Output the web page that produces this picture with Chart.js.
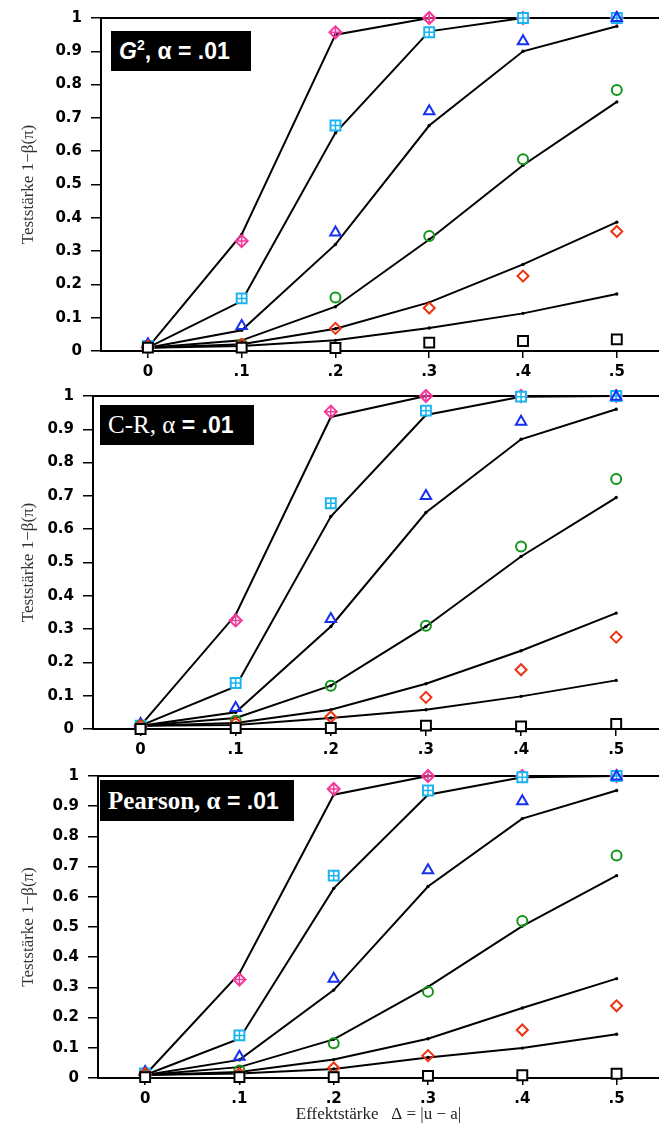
<!DOCTYPE html>
<html>
<head>
<meta charset="utf-8">
<script src="https://cdn.jsdelivr.net/npm/chart.js@4.4.1/dist/chart.umd.min.js"></script>
<style>
  body { margin: 0; background: #fff; }
  #wrap { position: relative; width: 659px; height: 1125px; }
  canvas { position: absolute; left: 0; }
  .tag {
    position: absolute; background: #000; color: #fff;
    display: flex; align-items: center; box-sizing: border-box;
    padding-left: 8px; white-space: nowrap;
    font: bold 23px "Liberation Sans", Arial, sans-serif;
  }
  .tag sup { font-size: 14px; vertical-align: 9px; line-height: 0; }
  .serif { font-family: "Liberation Serif", "DejaVu Serif", serif; }
</style>
</head>
<body>
<div id="wrap">
  <canvas id="g2" width="659" height="378" style="top:0px"></canvas>
  <canvas id="cr" width="659" height="380" style="top:378px"></canvas>
  <canvas id="pe" width="659" height="367" style="top:758px"></canvas>
  <div class="tag" style="left:111px;top:31px;width:140px;height:40px"><span><i>G</i><sup>2</sup>, α = .01</span></div>
  <div class="tag" style="left:100px;top:405px;width:154px;height:40px"><span><span class="serif" style="font-weight:normal;font-size:25px">C-R, α</span> = .01</span></div>
  <div class="tag" style="left:100px;top:780px;width:194px;height:41px"><span><span class="serif" style="font-size:25px">Pearson, α</span> = .01</span></div>
</div>
<script>
// Effektstärke (x) und Achsenbeschriftungen
const effect = [0, 0.1, 0.2, 0.3, 0.4, 0.5];
const xTickLabels = ['0', '.1', '.2', '.3', '.4', '.5'];
const yTicks = [0, 0.1, 0.2, 0.3, 0.4, 0.5, 0.6, 0.7, 0.8, 0.9, 1];
const yTickLabels = ['0', '0.1', '0.2', '0.3', '0.4', '0.5', '0.6', '0.7', '0.8', '0.9', '1'];

// Kurven (schwarze Linien): pink, cyan, blau, grün, rot, schwarz
const g2Lines = [
  [0.01, 0.35, 0.95, 1.0, 1.0, 1.0],
  [0.01, 0.15, 0.655, 0.96, 1.0, 1.0],
  [0.01, 0.062, 0.32, 0.677, 0.90, 0.975],
  [0.01, 0.032, 0.133, 0.335, 0.558, 0.748],
  [0.01, 0.02, 0.067, 0.146, 0.26, 0.387],
  [0.01, 0.015, 0.032, 0.069, 0.113, 0.171]
];
// Simulierte Werte (Marker): pink, cyan, blau, grün, rot, Quadrat
const g2Marks = [
  [0.01, 0.33, 0.957, 1.0, 1.0, 1.0],
  [0.015, 0.158, 0.677, 0.957, 1.0, 1.0],
  [0.02, 0.075, 0.356, 0.72, 0.93, 1.0],
  [0.01, 0.02, 0.161, 0.345, 0.576, 0.784],
  [0.015, 0.02, 0.068, 0.129, 0.225, 0.359],
  [0.01, 0.01, 0.009, 0.025, 0.03, 0.035]
];

const crLines = [
  [0.01, 0.343, 0.937, 1.0, 1.0, 1.0],
  [0.01, 0.128, 0.638, 0.943, 0.998, 1.0],
  [0.01, 0.05, 0.308, 0.65, 0.87, 0.96],
  [0.01, 0.033, 0.13, 0.308, 0.518, 0.695],
  [0.01, 0.018, 0.058, 0.136, 0.235, 0.348],
  [0.01, 0.012, 0.033, 0.058, 0.098, 0.146]
];
const crMarks = [
  [0.01, 0.326, 0.953, 1.0, 1.0, 1.0],
  [0.01, 0.138, 0.678, 0.956, 0.998, 1.0],
  [0.015, 0.063, 0.33, 0.70, 0.923, 0.998],
  [0.01, 0.025, 0.13, 0.31, 0.548, 0.751],
  [0.01, 0.018, 0.036, 0.095, 0.178, 0.276],
  [0.0, 0.003, 0.003, 0.01, 0.008, 0.015]
];

const peLines = [
  [0.01, 0.346, 0.938, 1.0, 1.0, 1.0],
  [0.01, 0.13, 0.628, 0.938, 0.996, 1.0],
  [0.01, 0.06, 0.291, 0.634, 0.859, 0.952],
  [0.01, 0.036, 0.128, 0.302, 0.503, 0.67],
  [0.01, 0.02, 0.061, 0.13, 0.232, 0.329],
  [0.01, 0.015, 0.03, 0.068, 0.099, 0.145]
];
const peMarks = [
  [0.01, 0.326, 0.957, 1.0, 1.0, 1.0],
  [0.015, 0.141, 0.67, 0.952, 0.996, 1.0],
  [0.02, 0.07, 0.329, 0.688, 0.916, 0.998],
  [0.01, 0.025, 0.115, 0.286, 0.52, 0.737],
  [0.015, 0.015, 0.033, 0.074, 0.159, 0.239],
  [0.003, 0.003, 0.003, 0.007, 0.009, 0.014]
];

// Markerformen (order: kleinere Zahl liegt oben)
const markStyles = [
  { style: 'rectRot', color: '#f2399b', r: 6, cross: 6, order: 7 },
  { style: 'rect', color: '#1cb4ee', r: 7, cross: 5, order: 6, fill: '#fff' },
  { style: 'triangle', color: '#1630ee', r: 6, order: 5 },
  { style: 'circle', color: '#13951b', r: 5, order: 4 },
  { style: 'rectRot', color: '#ee3312', r: 5.5, order: 3 },
  { style: 'rect', color: '#000', r: 7, fill: '#fff', order: 1 }
];

const tickFont = '"DejaVu Sans", "Liberation Sans", sans-serif';
const serif = '"Liberation Serif", "DejaVu Serif", serif';

function pts(arr) {
  return effect.map((x, i) => ({ x: x, y: arr[i] }));
}

function makePanel(id, lines, marks, g) {
  const datasets = [];
  lines.forEach(arr => {
    datasets.push({
      data: pts(arr), borderColor: '#000', borderWidth: 2,
      pointRadius: 1.7, pointBackgroundColor: '#000', pointBorderWidth: 0,
      tension: 0, order: 10, clip: false
    });
  });
  marks.forEach((arr, k) => {
    const m = markStyles[k];
    datasets.push({
      data: pts(arr), showLine: false, pointStyle: m.style, pointRadius: m.r,
      pointBorderColor: m.color, pointBackgroundColor: m.fill || 'rgba(0,0,0,0)',
      pointBorderWidth: 2, order: m.order, clip: false
    });
    if (m.cross) {
      datasets.push({
        data: pts(arr), showLine: false, pointStyle: 'cross', pointRadius: m.cross,
        pointBorderColor: m.color, pointBorderWidth: 1.5, order: m.order - 0.5, clip: false
      });
    }
  });

  new Chart(document.getElementById(id), {
    type: 'line',
    data: { datasets: datasets },
    options: {
      responsive: false,
      animation: false,
      events: [],
      layout: { padding: 0, autoPadding: false },
      plugins: { legend: { display: false }, tooltip: { enabled: false } },
      scales: {
        x: {
          type: 'linear', position: 'bottom', min: -0.05, max: 0.545,
          afterBuildTicks: s => { s.ticks = effect.map(v => ({ value: v })); },
          afterFit: s => { s.height = g.xh; },
          ticks: {
            callback: (v, i) => xTickLabels[i], color: '#000', padding: 5,
            maxRotation: 0, autoSkip: false,
            font: { family: tickFont, size: 15, weight: 'bold' }
          },
          grid: { drawOnChartArea: false, tickLength: 7, color: '#000', lineWidth: 1.5 },
          border: { color: '#000', width: 2 },
          title: {
            display: !!g.title, text: 'Effektstärke   Δ = |u − a|', color: '#222',
            font: { family: serif, size: 17 }, padding: { top: 0, bottom: 0 }
          }
        },
        xTop: {
          type: 'linear', position: 'top', min: -0.05, max: 0.545,
          afterFit: s => { s.height = g.top; },
          ticks: { display: false },
          grid: { display: false },
          border: { display: true, color: '#000', width: 2 }
        },
        y: {
          min: 0, max: 1,
          afterBuildTicks: s => { s.ticks = yTicks.map(v => ({ value: v })); },
          afterFit: s => { s.width = g.yw; },
          ticks: {
            callback: (v, i) => yTickLabels[i], color: '#000', padding: 9,
            font: { family: tickFont, size: 15, weight: 'bold' }
          },
          grid: { drawOnChartArea: false, tickLength: 10, color: '#000', lineWidth: 1.5 },
          border: { color: '#000', width: 2 },
          title: {
            display: true, text: 'Teststärke 1−β(π)', color: '#333',
            font: { family: serif, size: 17 }, padding: { top: 18, bottom: 0 }
          }
        }
      }
    }
  });
}

makePanel('g2', g2Lines, g2Marks, { top: 16, xh: 27, yw: 101 });
makePanel('cr', crLines, crMarks, { top: 18, xh: 29, yw: 93 });
makePanel('pe', peLines, peMarks, { top: 13, xh: 47, yw: 98, title: true });
</script>
</body>
</html>
